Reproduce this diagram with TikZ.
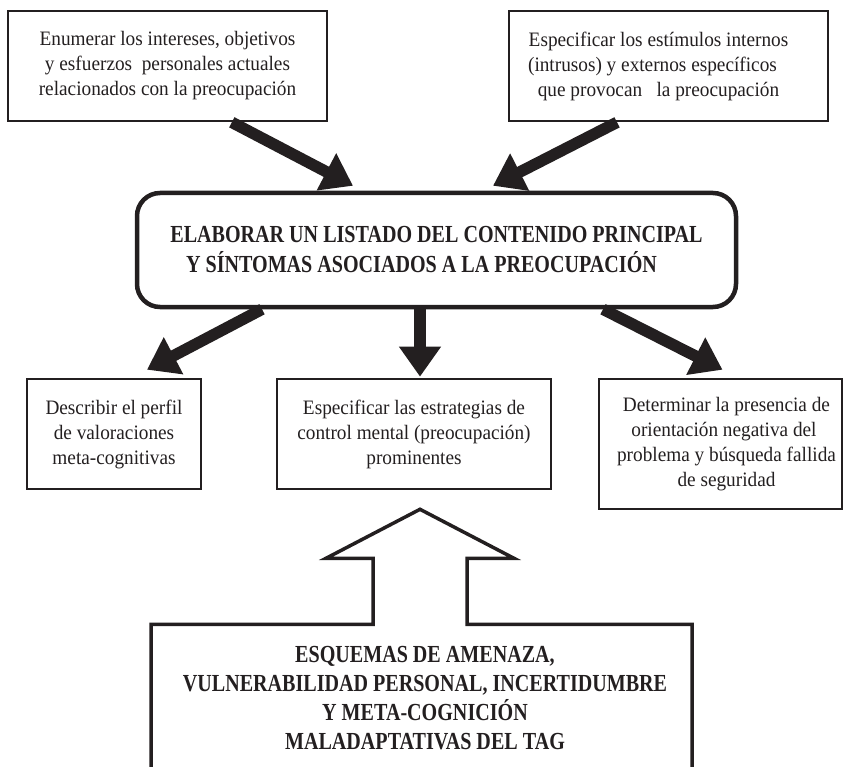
\documentclass[tikz,border=0pt]{standalone}
\usepackage{fontspec}
\setmainfont{Liberation Serif}
\newfontfamily\bodyfont[FakeStretch=0.94]{Liberation Serif}
\newfontfamily\headfont[FakeStretch=0.82]{Liberation Serif}
\usetikzlibrary{arrows.meta,calc}
\definecolor{ink}{RGB}{35,31,32}
\begin{document}
\begin{tikzpicture}[x=1pt,y=-1pt,
  every node/.style={text=ink},
  plainbox/.style={draw=ink, line width=2.6pt, rectangle, align=center, inner sep=0pt,
    font=\bodyfont\fontsize{20.5}{25}\selectfont},
  mainbox/.style={draw=ink, line width=4.5pt, rounded corners=23pt, align=center, inner sep=0pt,
    font=\headfont\bfseries\fontsize{24.5}{30}\selectfont},
  schematext/.style={align=center, inner sep=0pt, font=\headfont\bfseries\fontsize{24.5}{29}\selectfont},
  fatarrow/.style={draw=ink, line width=11.5pt, -{Triangle[length=30pt,width=40pt]}},
  hollow/.style={draw=ink, line width=3.5pt, line join=miter}
]
\useasboundingbox (0,0) rectangle (843,767);

% upper boxes
\node[plainbox, minimum width=319pt, minimum height=110pt] (tl) at (167.5,66)
  {Enumerar los intereses, objetivos\\ y esfuerzos\ \ personales actuales\\ relacionados con la preocupación};
\node[plainbox, minimum width=319pt, minimum height=110pt] (tr) at (668.5,66)
  {Especificar los estímulos internos\kern20pt\\ (intrusos) y externos específicos\kern32pt\\ que provocan\ \ \ la preocupación\kern20pt};

% central rounded box
\node[mainbox, minimum width=599pt, minimum height=114pt] (ctr) at (436.5,250)
  {ELABORAR UN LISTADO DEL CONTENIDO PRINCIPAL\\ Y SÍNTOMAS ASOCIADOS A LA PREOCUPACIÓN\kern30pt};

% lower boxes
\node[plainbox, minimum width=174pt, minimum height=110pt] (bl) at (114,434)
  {Describir el perfil\\ de valoraciones\\ meta-cognitivas};
\node[plainbox, minimum width=274pt, minimum height=110pt] (bm) at (414,434)
  {Especificar las estrategias de\\ control mental (preocupación)\\ prominentes};
\node[plainbox, minimum width=243pt, minimum height=130pt] (br) at (720.5,444)
  {\kern12pt Determinar la presencia de\\ \kern12pt orientación negativa del\kern5pt\\ \kern12pt problema y búsqueda fallida\\ \kern12pt de seguridad};

% schema text at the bottom
\node[schematext] (schema) at (425,698)
  {ESQUEMAS DE AMENAZA,\\ VULNERABILIDAD PERSONAL, INCERTIDUMBRE\\ Y META-COGNICIÓN\\ MALADAPTATIVAS DEL TAG};

% solid arrows
\draw[fatarrow] ($(tl.south west)!0.70!(tl.south east)$) -- ($(ctr.north)+(-83.5,-5)$);
\draw[fatarrow] ($(tr.south west)!0.34!(tr.south east)$) -- ($(ctr.north)+(56.5,-5)$);
\draw[fatarrow] ($(ctr.south)+(-174.5,0)$) -- ($(bl.north)+(33,-8)$);
\draw[fatarrow] ($(ctr.south)+(-16.5,0)$) -- ($(bm.north)+(6,-1)$);
\draw[fatarrow] ($(ctr.south)+(166.5,0)$) -- ($(br.north)+(2,-8)$);

% open box of the schemas joined to a hollow arrow pointing up
\coordinate (apex) at ($(bm.south)+(6,19)$);
\draw[hollow] ($(apex)+(-269,280)$) -- ($(apex)+(-269,115)$) -- ($(apex)+(-47,115)$)
  -- ($(apex)+(-47,49)$) -- ($(apex)+(-94,49)$) -- (apex) -- ($(apex)+(94,49)$)
  -- ($(apex)+(47,49)$) -- ($(apex)+(47,115)$) -- ($(apex)+(272,115)$) -- ($(apex)+(272,280)$);
\end{tikzpicture}
\end{document}
